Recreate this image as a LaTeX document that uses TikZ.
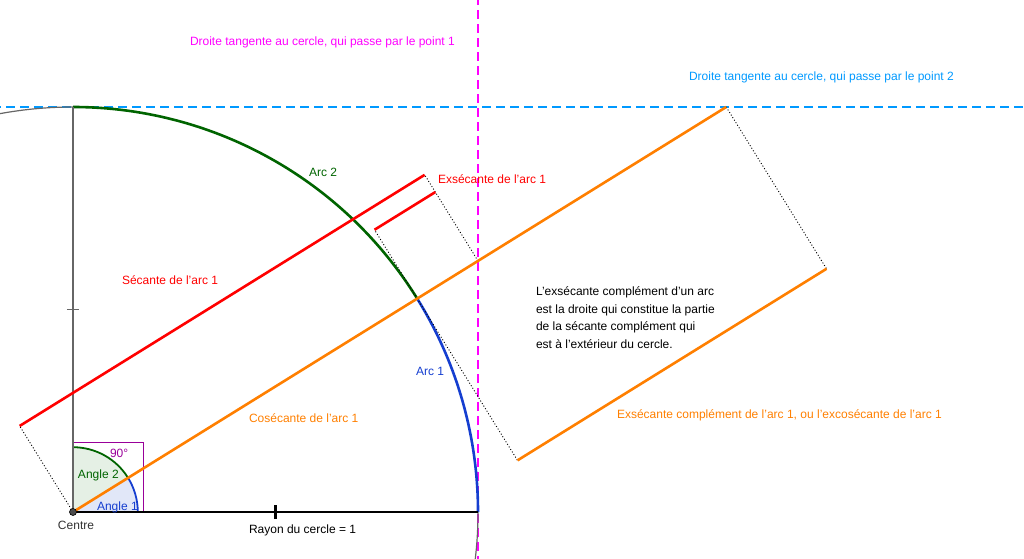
\documentclass[tikz,border=0pt]{standalone}
\usepackage{fontspec}
\setmainfont{Liberation Sans}
\usepackage{tikz}
\usetikzlibrary{calc}
\newcommand{\arcangle}{31.8}
\newcommand{\angleradius}{0.16}
\definecolor{geored}{RGB}{255,0,0}
\definecolor{geoorange}{RGB}{255,127,0}
\definecolor{geogreen}{RGB}{0,100,0}
\definecolor{geoblue}{RGB}{21,62,208}
\definecolor{geomagenta}{RGB}{255,0,255}
\definecolor{geocyan}{RGB}{0,153,255}
\definecolor{geopurple}{RGB}{153,0,153}
\definecolor{lightgreen}{RGB}{229,240,229}
\definecolor{lightblue}{RGB}{225,231,248}
\tikzstyle{geotext}=[inner sep=0, outer sep=0, anchor=base west, font=\fontsize{12}{17.5}\selectfont]
\tikzstyle{tangent}=[line width=1.3pt, dash pattern=on 9pt off 5pt]
\tikzstyle{trigsegment}=[line width=2.6pt]
\tikzstyle{circlearc}=[line width=2.6pt]
\tikzstyle{projection}=[line width=0.9pt, dash pattern=on 1pt off 2pt]
\tikzstyle{radiusline}=[black!60, line width=1.2pt]

\begin{document}
\begin{tikzpicture}[x=405pt, y=405pt]
    \useasboundingbox (-73pt,-46pt) rectangle (951pt,512pt);
    \clip (-73pt,-46pt) rectangle (951pt,512pt);
    % points of the circle
    \coordinate (O) at (0,0);
    \coordinate (P1) at (1,0);
    \coordinate (P2) at (0,1);
    \coordinate (M) at (\arcangle:1);
    \coordinate (S) at (1,{tan(\arcangle)});
    \coordinate (K) at ({cot(\arcangle)},1);
    % shifted copies of the segments
    \coordinate (sec0) at ($(O)+(\arcangle+90:0.25)$);
    \coordinate (sec1) at ($(S)+(\arcangle+90:0.25)$);
    \coordinate (exsec0) at ($(M)+(\arcangle+90:0.2)$);
    \coordinate (exsec1) at ($(S)+(\arcangle+90:0.2)$);
    \coordinate (excsc0) at ($(M)+(\arcangle-90:0.47)$);
    \coordinate (excsc1) at ($(K)+(\arcangle-90:0.47)$);
    % angles
    \fill[lightgreen] (O) -- (\arcangle:\angleradius) arc[start angle=\arcangle, end angle=90, radius=\angleradius] -- cycle;
    \fill[lightblue] (O) -- (\angleradius,0) arc[start angle=0, end angle=\arcangle, radius=\angleradius] -- cycle;
    \draw[geogreen, line width=1.8pt] (\arcangle:\angleradius) arc[start angle=\arcangle, end angle=90, radius=\angleradius];
    \draw[geoblue, line width=1.8pt] (\angleradius,0) arc[start angle=0, end angle=\arcangle, radius=\angleradius];
    \draw[geopurple, line width=0.8pt] (O) rectangle (70pt,70pt);
    % tangents
    \draw[tangent, geomagenta] ($(P1)+(0,-0.2)$) -- ($(P1)+(0,1.35)$);
    \draw[tangent, geocyan] ($(P2)+(-0.2,0)$) -- ($(P2)+(2.4,0)$);
    % circle
    \draw[radiusline] (P2) arc[start angle=90, end angle=115, radius=1];
    \draw[radiusline] (P1) arc[start angle=0, end angle=-10, radius=1];
    \draw[circlearc, geogreen] (M) arc[start angle=\arcangle, end angle=90, radius=1];
    \draw[circlearc, geoblue] (P1) arc[start angle=0, end angle=\arcangle, radius=1];
    % radii
    \draw[radiusline] (O) -- (P2);
    \draw[radiusline] ($(O)!0.5!(P2)+(-6pt,0)$) -- +(12pt,0);
    \draw[black, line width=2.2pt] (O) -- (P1);
    \draw[black, line width=2.2pt] ($(O)!0.5!(P1)+(0,-7pt)$) -- +(0,14pt);
    % projections
    \draw[projection] (O) -- (sec0);
    \draw[projection] (S) -- (sec1);
    \draw[projection] (M) -- (exsec0);
    \draw[projection] (M) -- (excsc0);
    \draw[projection] (K) -- (excsc1);
    % segments
    \draw[trigsegment, geoorange] (O) -- (K);
    \draw[trigsegment, geored] (sec0) -- (sec1);
    \draw[trigsegment, geored] (exsec0) -- (exsec1);
    \draw[trigsegment, geoorange] (excsc0) -- (excsc1);
    \filldraw[fill=black!70, draw=black, line width=0.6pt] (O) circle[radius=3.5pt];
    % labels
    \node[geotext, geomagenta] (tangent1) at (117pt,466pt) {Droite tangente au cercle, qui passe par le point 1};
    \node[geotext, geocyan] (tangent2) at (616pt,431pt) {Droite tangente au cercle, qui passe par le point 2};
    \node[geotext, geogreen] (arc2) at (236pt,336pt) {Arc 2};
    \node[geotext, geored] (exsec) at (365pt,329pt) {Exsécante de l'arc 1};
    \node[geotext, geored] (sec) at (49pt,228pt) {Sécante de l'arc 1};
    \node[geotext, geoblue] (arc1) at (343pt,137pt) {Arc 1};
    \node[geotext, geoorange] (csc) at (176pt,90pt) {Cosécante de l'arc 1};
    \node[geotext, geoorange] (excsc) at (544pt,94pt) {Exsécante complément de l'arc 1, ou l'excosécante de l'arc 1};
    \node[geotext, align=left, anchor=north west] (note) at (463pt,225pt) {L'exsécante complément d'un arc\\est la droite qui constitue la partie\\de la sécante complément qui\\est à l'extérieur du cercle.};
    \node[geotext, black!80] (centre) at (-15pt,-17pt) {Centre};
    \node[geotext] (rayon) at (176pt,-21pt) {Rayon du cercle = 1};
    \node[geotext, geopurple] (right) at (37pt,55pt) {90°};
    \node[geotext, geogreen] (angle2) at (5pt,34pt) {Angle 2};
    \node[geotext, geoblue] (angle1) at (24pt,2pt) {Angle 1};
\end{tikzpicture}
\end{document}
